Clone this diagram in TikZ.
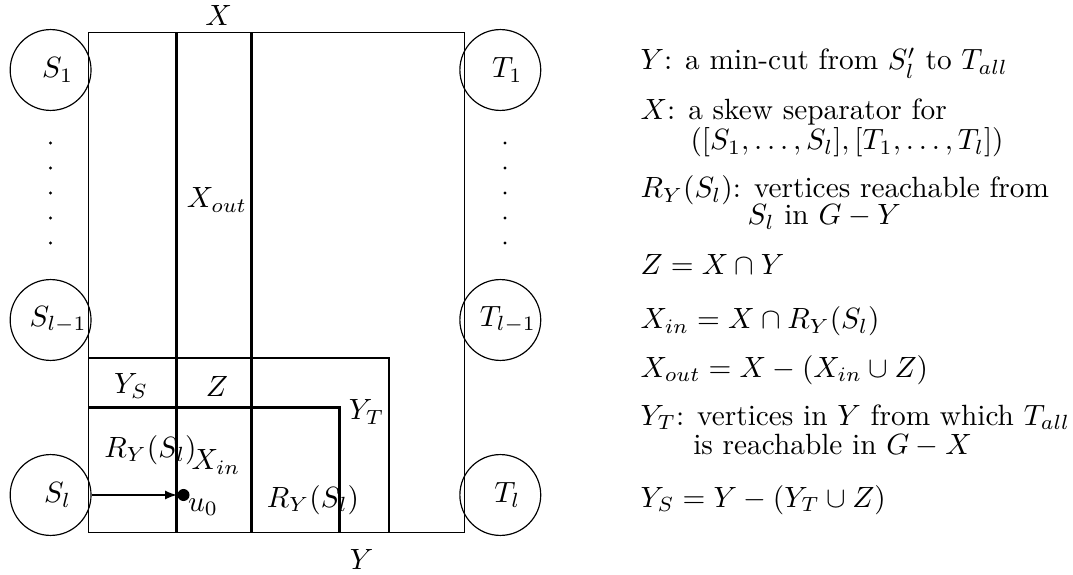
\documentclass[tikz,border=0pt]{standalone}
\usepackage{amsmath}
\usetikzlibrary{calc}

\begin{document}
\begin{tikzpicture}[x=0.3413pt, y=-0.3413pt,
  hole/.style={draw, circle, minimum size=27.6pt, inner sep=0pt},
  cut/.style={line width=1pt},
  note/.style={anchor=base west, inner sep=0pt}]
  \useasboundingbox (0,0) rectangle (1073,575);
  % the graph G
  \coordinate (NW) at (88.8,32.3);
  \coordinate (SE) at (464.2,532.7);
  \draw (NW) rectangle (SE);
  % X: the two vertical cuts
  \draw[cut] (176.7,32.3) -- (176.7,532.7);
  \draw[cut] (251.4,32.3) -- (251.4,532.7);
  % Y: the two bent cuts
  \draw[cut] (88.8,358) -- (389,358) -- (389,532.7);
  \draw[cut] (88.8,407.3) -- (339.2,407.3) -- (339.2,532.7);
  % sources and sinks
  \node[hole, label={[xshift=2.4pt]center:$S_1$}] (S1) at (50.6,70) {};
  \node[hole, label={[xshift=2.6pt]center:$S_{l-1}$}] (Sm) at (50.6,320) {};
  \node[hole, label={[xshift=2.4pt]center:$S_l$}] (Sl) at (50.6,495) {};
  \node[hole, label={[xshift=2.4pt]center:$T_1$}] (T1) at (500.3,70) {};
  \node[hole, label={[xshift=2.6pt]center:$T_{l-1}$}] (Tm) at (500.3,320) {};
  \node[hole, label={[xshift=2.4pt]center:$T_l$}] (Tl) at (500.3,495) {};
  \foreach \y in {143,168,...,243} {
    \fill (50.6,\y) circle (0.55pt);
    \fill (505,\y) circle (0.55pt);
  }
  % labels of the regions
  \node (lX) at (218.7,15) {$X$};
  \node (lY) at (361.6,559) {$Y$};
  \node (lXout) at (217,200) {$X_{out}$};
  \node (lYS) at (131,386) {$Y_S$};
  \node (lZ) at (217,386) {$Z$};
  \node (lYT) at (366.7,412) {$Y_T$};
  \node (lR1) at (150.5,450) {$R_Y(S_l)$};
  \node (lXin) at (216,462) {$X_{in}$};
  \node (lR2) at (313,500) {$R_Y(S_l)$};
  % the vertex u0
  \node[circle, fill, inner sep=0pt, minimum size=4.1pt] (u0) at (183.5,495) {};
  \node (lu0) at (203,507) {$u_0$};
  \draw[-latex] (Sl) -- (u0);
  % legend
  \node[note] (nY) at (640,70) {$Y$: a min-cut from $S'_l$ to $T_{all}$};
  \node[note] (nX) at (640,120) {$X$: a skew separator for};
  \node[note] (nX2) at (690,150) {$([S_1,\dots,S_l],[T_1,\dots,T_l])$};
  \node[note] (nR) at (640,198) {$R_Y(S_l)$: vertices reachable from};
  \node[note] (nR2) at (747,225) {$S_l$ in $G-Y$};
  \node[note] (nZ) at (640,275) {$Z=X\cap Y$};
  \node[note] (nXin) at (640,329) {$X_{in}=X\cap R_Y(S_l)$};
  \node[note] (nXout) at (640,377) {$X_{out}=X-(X_{in}\cup Z)$};
  \node[note] (nYT) at (640,425) {$Y_T$: vertices in $Y$ from which $T_{all}$};
  \node[note] (nYT2) at (692.7,454) {is reachable in $G-X$};
  \node[note] (nYS) at (640,507) {$Y_S=Y-(Y_T\cup Z)$};
\end{tikzpicture}
\end{document}
